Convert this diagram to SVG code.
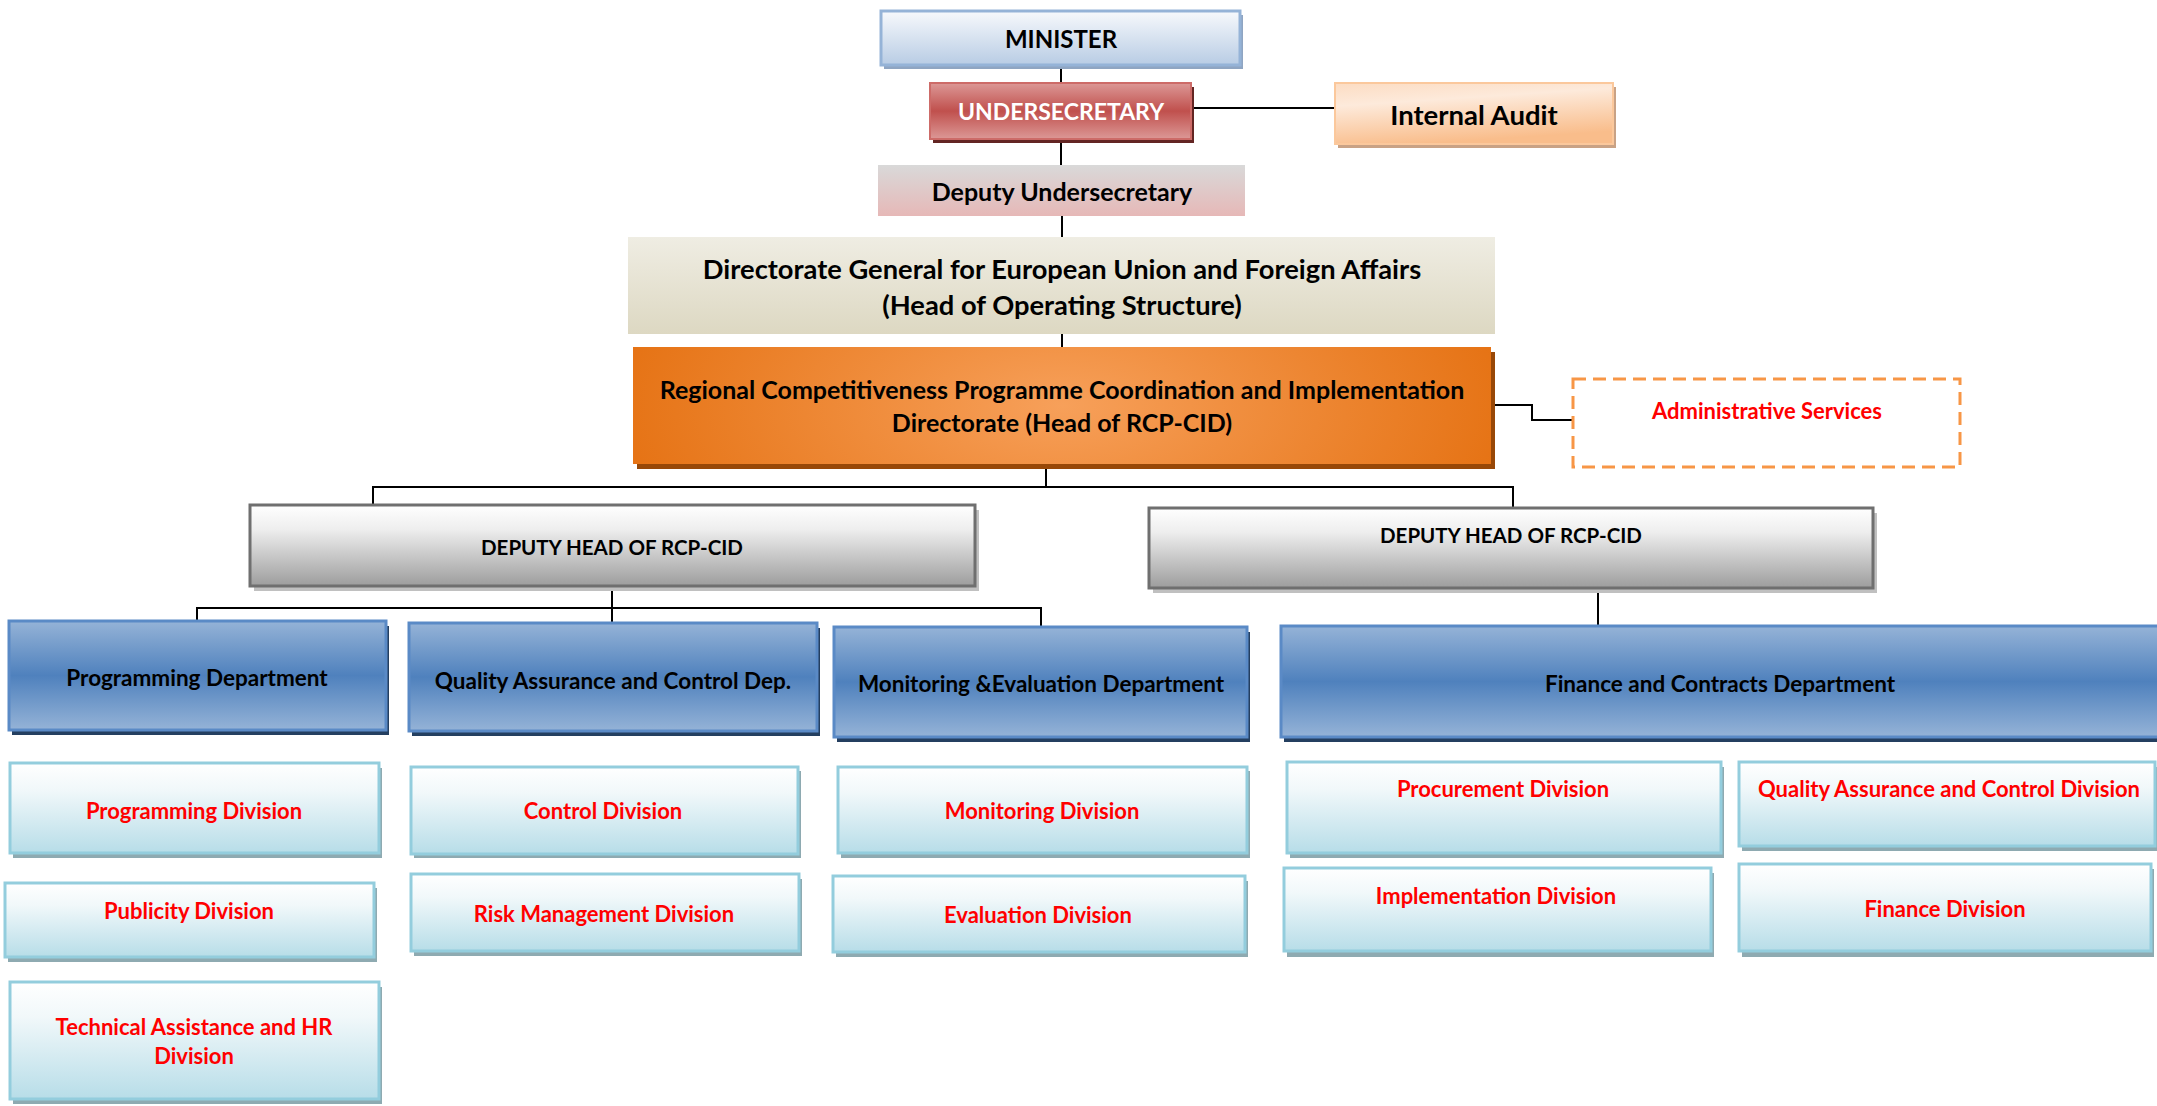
<svg xmlns="http://www.w3.org/2000/svg" width="2157" height="1106" viewBox="0 0 2157 1106">
  <defs>
    <linearGradient id="gMinister" x1="0" y1="0" x2="0" y2="1">
      <stop offset="0" stop-color="#f7f9fc"/>
      <stop offset="1" stop-color="#b8cce4"/>
    </linearGradient>
    <linearGradient id="gUnder" x1="0" y1="0" x2="0" y2="1">
      <stop offset="0" stop-color="#dc9896"/>
      <stop offset="0.5" stop-color="#c0504d"/>
      <stop offset="1" stop-color="#dc9896"/>
    </linearGradient>
    <linearGradient id="gAudit" x1="0" y1="0" x2="0.3" y2="1">
      <stop offset="0" stop-color="#fcdcc2"/>
      <stop offset="0.35" stop-color="#fdeadb"/>
      <stop offset="1" stop-color="#f9bd8b"/>
    </linearGradient>
    <linearGradient id="gDeputy" x1="0" y1="0" x2="0" y2="1">
      <stop offset="0" stop-color="#d9d9d9"/>
      <stop offset="1" stop-color="#e6b8b7"/>
    </linearGradient>
    <linearGradient id="gDG" x1="0" y1="0" x2="0" y2="1">
      <stop offset="0" stop-color="#efede3"/>
      <stop offset="1" stop-color="#ddd8c2"/>
    </linearGradient>
    <radialGradient id="gRCP" cx="0.5" cy="0.5" r="0.6" gradientTransform="translate(0.5 0.5) scale(1 3.5) translate(-0.5 -0.5)">
      <stop offset="0" stop-color="#f7a05a"/>
      <stop offset="1" stop-color="#e36c0a"/>
    </radialGradient>
    <linearGradient id="gHead" x1="0" y1="0" x2="0" y2="1">
      <stop offset="0" stop-color="#ffffff"/>
      <stop offset="0.3" stop-color="#eeeeee"/>
      <stop offset="1" stop-color="#9d9d9d"/>
    </linearGradient>
    <linearGradient id="gDept" x1="0" y1="0" x2="0" y2="1">
      <stop offset="0" stop-color="#95b3d7"/>
      <stop offset="0.5" stop-color="#4f81bd"/>
      <stop offset="1" stop-color="#95b3d7"/>
    </linearGradient>
    <linearGradient id="gDiv" x1="0" y1="0" x2="0" y2="1">
      <stop offset="0" stop-color="#ffffff"/>
      <stop offset="0.3" stop-color="#f1f8fa"/>
      <stop offset="1" stop-color="#b7dde8"/>
    </linearGradient>
  </defs>
  <style>
    text { font-family: Lato, "Liberation Sans", sans-serif; font-weight: bold; text-anchor: middle; dominant-baseline: central; }
    .k { fill: #000000; }
    .w { fill: #ffffff; }
    .r { fill: #ff0000; font-size: 22px; }
    .d { font-size: 22.5px; }
    .minister { fill: url(#gMinister); stroke: #95b3d7; stroke-width: 3; }
    .minister-sh { fill: #8fa5c2; }
    .under { fill: url(#gUnder); stroke: #cd6b68; stroke-width: 2; }
    .under-sh { fill: #632523; }
    .audit { fill: url(#gAudit); stroke: #fbc89c; stroke-width: 2; }
    .audit-sh { fill: #c9a285; }
    .deputy { fill: url(#gDeputy); }
    .dg { fill: url(#gDG); }
    .rcp { fill: url(#gRCP); }
    .rcp-sh { fill: #984807; }
    .admin { fill: #ffffff; stroke: #f79646; stroke-width: 3; stroke-dasharray: 13 7; }
    .head { fill: url(#gHead); stroke: #6f6f6f; stroke-width: 3; }
    .head-sh { fill: #c0c0c0; }
    .dept { fill: url(#gDept); stroke: #5a8ac6; stroke-width: 3; }
    .dept-sh { fill: #243f60; }
    .div { fill: url(#gDiv); stroke: #93cddd; stroke-width: 3; }
    .div-sh { fill: #8eaab1; }
    .conn { fill: none; stroke: #000000; stroke-width: 2; }
  </style>

  <!-- reporting lines -->
  <g id="connectors">
    <path class="conn" d="M1061 65 V84"/>
    <path class="conn" d="M1191 108 H1335"/>
    <path class="conn" d="M1061 139 V165"/>
    <path class="conn" d="M1062 216 V237"/>
    <path class="conn" d="M1062 334 V347"/>
    <path class="conn" d="M1491 405 H1532 V420 H1573"/>
    <path class="conn" d="M1046 464 V487"/>
    <path class="conn" d="M373 509 V487 H1513 V508"/>
    <path class="conn" d="M612 586 V623"/>
    <path class="conn" d="M197 621 V608 H1041 V627"/>
    <path class="conn" d="M1598 588 V626"/>
  </g>

  <!-- top management -->
  <g id="minister">
    <rect class="minister-sh" x="884" y="15" width="359" height="54"/>
    <rect class="minister" x="881" y="11" width="359" height="54"/>
    <text class="k" x="1061" y="38" font-size="24">MINISTER</text>
  </g>
  <g id="undersecretary">
    <rect class="under-sh" x="933" y="87" width="261" height="56"/>
    <rect class="under" x="930" y="83" width="261" height="56"/>
    <text class="w" x="1061" y="111" font-size="23">UNDERSECRETARY</text>
  </g>
  <g id="internal-audit">
    <rect class="audit-sh" x="1338" y="87" width="278" height="61"/>
    <rect class="audit" x="1335" y="83" width="278" height="61"/>
    <text class="k" x="1474" y="114" font-size="27.5">Internal Audit</text>
  </g>
  <g id="deputy-undersecretary">
    <rect class="deputy" x="878" y="165" width="367" height="51"/>
    <text class="k" x="1062" y="191" font-size="25">Deputy Undersecretary</text>
  </g>
  <g id="directorate-general">
    <rect class="dg" x="628" y="237" width="867" height="97"/>
    <text class="k" x="1062" y="268" font-size="27.3">Directorate General for European Union and Foreign Affairs</text>
    <text class="k" x="1062" y="304" font-size="27.3">(Head of Operating Structure)</text>
  </g>
  <g id="rcp-cid">
    <rect class="rcp-sh" x="637" y="352" width="858" height="117"/>
    <rect class="rcp" x="633" y="347" width="858" height="117"/>
    <text class="k" x="1062" y="389" font-size="25">Regional Competitiveness Programme Coordination and Implementation</text>
    <text class="k" x="1062" y="422" font-size="25">Directorate (Head of RCP-CID)</text>
  </g>
  <g id="administrative-services">
    <rect class="admin" x="1573" y="379" width="387" height="88"/>
    <text class="r" x="1767" y="410">Administrative Services</text>
  </g>

  <!-- deputy heads -->
  <g id="deputy-head-1">
    <rect class="head-sh" x="254" y="510" width="725" height="81"/>
    <rect class="head" x="250" y="505" width="725" height="81"/>
    <text class="k" x="612" y="547" font-size="20.5">DEPUTY HEAD OF RCP-CID</text>
  </g>
  <g id="deputy-head-2">
    <rect class="head-sh" x="1153" y="513" width="724" height="80"/>
    <rect class="head" x="1149" y="508" width="724" height="80"/>
    <text class="k" x="1511" y="535" font-size="20.5">DEPUTY HEAD OF RCP-CID</text>
  </g>

  <!-- departments -->
  <g id="programming-department">
    <rect class="dept-sh" x="12" y="626" width="377" height="109"/>
    <rect class="dept" x="9" y="621" width="377" height="109"/>
    <text class="k d" x="197" y="677">Programming Department</text>
  </g>
  <g id="qa-control-department">
    <rect class="dept-sh" x="412" y="628" width="408" height="108"/>
    <rect class="dept" x="409" y="623" width="408" height="108"/>
    <text class="k d" x="613" y="680">Quality Assurance and Control Dep.</text>
  </g>
  <g id="monitoring-evaluation-department">
    <rect class="dept-sh" x="837" y="632" width="413" height="110"/>
    <rect class="dept" x="834" y="627" width="413" height="110"/>
    <text class="k d" x="1041" y="683">Monitoring &amp;Evaluation Department</text>
  </g>
  <g id="finance-contracts-department">
    <rect class="dept-sh" x="1284" y="631" width="880" height="111"/>
    <rect class="dept" x="1281" y="626" width="880" height="111"/>
    <text class="k d" x="1720" y="683">Finance and Contracts Department</text>
  </g>

  <!-- divisions -->
  <g id="programming-division">
    <rect class="div-sh" x="13" y="768" width="369" height="90"/>
    <rect class="div" x="10" y="763" width="369" height="90"/>
    <text class="r" x="194" y="810">Programming Division</text>
  </g>
  <g id="publicity-division">
    <rect class="div-sh" x="8" y="888" width="369" height="74"/>
    <rect class="div" x="5" y="883" width="369" height="74"/>
    <text class="r" x="189" y="910">Publicity Division</text>
  </g>
  <g id="technical-assistance-hr-division">
    <rect class="div-sh" x="13" y="987" width="369" height="117"/>
    <rect class="div" x="10" y="982" width="369" height="117"/>
    <text class="r" x="194" y="1026">Technical Assistance and HR</text>
    <text class="r" x="194" y="1055">Division</text>
  </g>
  <g id="control-division">
    <rect class="div-sh" x="414" y="771" width="387" height="87"/>
    <rect class="div" x="411" y="767" width="387" height="87"/>
    <text class="r" x="603" y="810">Control Division</text>
  </g>
  <g id="risk-management-division">
    <rect class="div-sh" x="414" y="879" width="388" height="77"/>
    <rect class="div" x="411" y="874" width="388" height="77"/>
    <text class="r" x="604" y="913">Risk Management Division</text>
  </g>
  <g id="monitoring-division">
    <rect class="div-sh" x="841" y="771" width="409" height="87"/>
    <rect class="div" x="838" y="767" width="409" height="86"/>
    <text class="r" x="1042" y="810">Monitoring Division</text>
  </g>
  <g id="evaluation-division">
    <rect class="div-sh" x="836" y="881" width="412" height="76"/>
    <rect class="div" x="833" y="876" width="412" height="76"/>
    <text class="r" x="1038" y="914">Evaluation Division</text>
  </g>
  <g id="procurement-division">
    <rect class="div-sh" x="1290" y="767" width="434" height="91"/>
    <rect class="div" x="1287" y="762" width="434" height="91"/>
    <text class="r" x="1503" y="788">Procurement Division</text>
  </g>
  <g id="qa-control-division">
    <rect class="div-sh" x="1742" y="767" width="416" height="84"/>
    <rect class="div" x="1739" y="762" width="416" height="84"/>
    <text class="r" x="1949" y="788">Quality Assurance and Control Division</text>
  </g>
  <g id="implementation-division">
    <rect class="div-sh" x="1287" y="873" width="427" height="84"/>
    <rect class="div" x="1284" y="868" width="427" height="83"/>
    <text class="r" x="1496" y="895">Implementation Division</text>
  </g>
  <g id="finance-division">
    <rect class="div-sh" x="1742" y="869" width="412" height="88"/>
    <rect class="div" x="1739" y="864" width="412" height="87"/>
    <text class="r" x="1945" y="908">Finance Division</text>
  </g>
</svg>
